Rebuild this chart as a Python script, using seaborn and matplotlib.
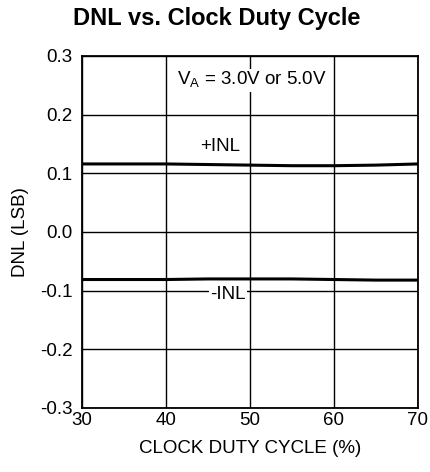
import numpy as np
import pandas as pd
import matplotlib
matplotlib.use('Agg')
import matplotlib.pyplot as plt
import seaborn as sns

# data
duty = [30, 35, 40, 45, 50, 55, 60, 65, 70]
pos_inl = [0.116, 0.116, 0.116, 0.115, 0.114, 0.113, 0.113, 0.114, 0.116]
neg_inl = [-0.081, -0.081, -0.081, -0.080, -0.080, -0.080, -0.081, -0.082, -0.082]

xticks = [30, 40, 50, 60, 70]
yticks = [-0.3, -0.2, -0.1, 0.0, 0.1, 0.2, 0.3]
ytick_labels = ['-0.3', '-0.2', '-0.1', '0.0', '0.1', '0.2', '0.3']

sns.set_theme(style='white')
plt.rcParams['font.family'] = ['Liberation Sans', 'DejaVu Sans']
plt.rcParams['text.color'] = 'black'
plt.rcParams['axes.labelcolor'] = 'black'

df = pd.DataFrame({'duty': duty * 2,
                   'dnl': pos_inl + neg_inl,
                   'series': ['+INL'] * len(duty) + ['-INL'] * len(duty)})

fig = plt.figure(figsize=(4.3, 4.72), dpi=100)
ax = fig.add_axes([82 / 430, 1 - 408 / 472, 336 / 430, 352 / 472])

sns.lineplot(data=df, x='duty', y='dnl', units='series', estimator=None,
             color='black', linewidth=2.2, ax=ax, legend=False, zorder=3)

ax.set_xlim(30, 70)
ax.set_ylim(-0.3, 0.3)
ax.set_xticks(xticks)
ax.set_yticks(yticks)
ax.set_yticklabels(ytick_labels)
ax.grid(True, color='black', linewidth=1.0)
for s in ax.spines.values():
    s.set_color('black')
    s.set_linewidth(1.3)
ax.tick_params(axis='x', labelsize=13.5, colors='black', length=0, pad=3)
ax.tick_params(axis='y', labelsize=13.5, colors='black', length=0, pad=7)

ax.set_xlabel('CLOCK DUTY CYCLE (%)', fontsize=13.5, labelpad=8)
ax.set_ylabel('DNL (LSB)', fontsize=13.5, labelpad=8)

ax.text(50.2, 0.259, r'V$_\mathregular{A}$ = 3.0V or 5.0V', ha='center', va='center',
        fontsize=13.5, bbox=dict(facecolor='white', edgecolor='none', pad=1))
ax.text(46.5, 0.145, '+INL', ha='center', va='center', fontsize=13.5,
        bbox=dict(facecolor='white', edgecolor='none', pad=1))
ax.text(47.4, -0.107, '-INL', ha='center', va='center', fontsize=13.5,
        bbox=dict(facecolor='white', edgecolor='none', pad=1), zorder=4)

fig.suptitle('DNL vs. Clock Duty Cycle', fontsize=17, fontweight='bold',
             x=217 / 430, y=1 - 19 / 472, va='center')

fig.savefig('out.png', dpi=100, facecolor='white')
